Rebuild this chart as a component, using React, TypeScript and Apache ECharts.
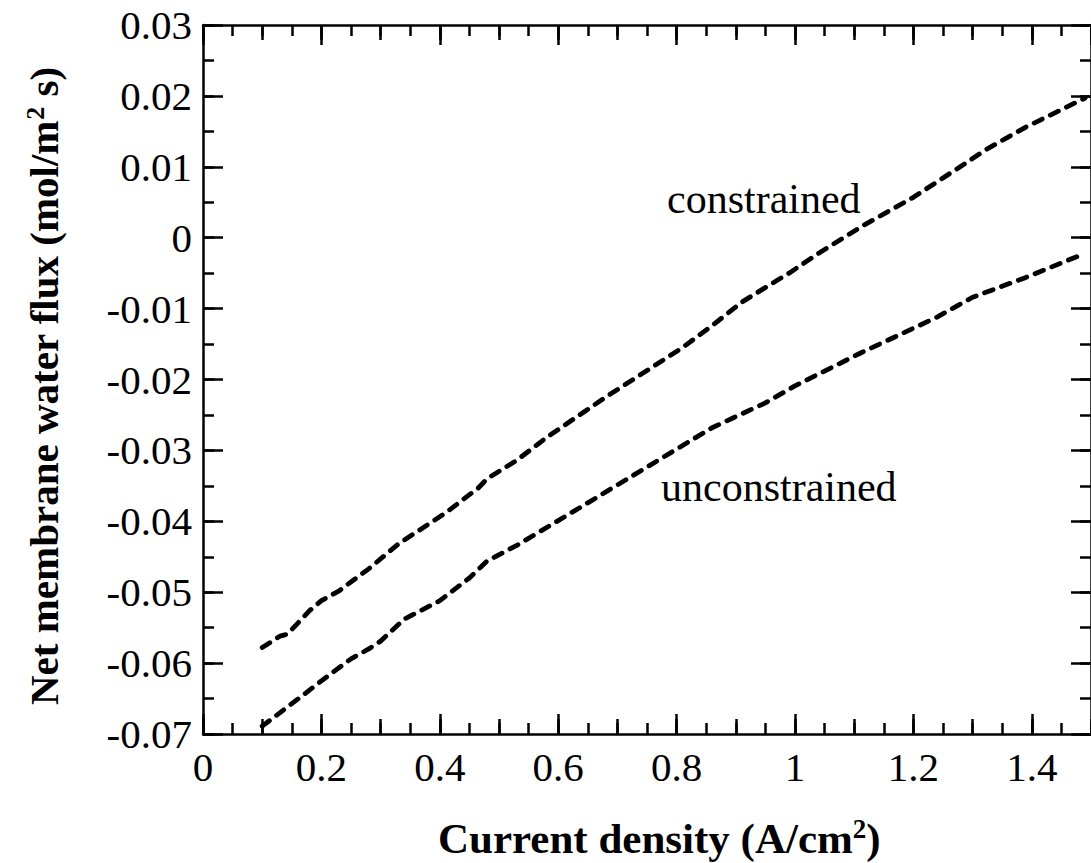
import React, { useEffect, useRef } from "react";
import * as echarts from "echarts";

// Current density (A/cm^2) and net membrane water flux (mol/m^2 s)
const currentConstrained = [
  0.1, 0.13, 0.143, 0.18, 0.2, 0.23, 0.28, 0.33, 0.41, 0.465, 0.48, 0.53, 0.58,
  0.68, 0.81, 0.86, 0.91, 0.97, 0.99, 1.04, 1.115, 1.2, 1.29, 1.32, 1.39, 1.49,
];
const fluxConstrained = [
  -0.0578, -0.0562, -0.0559, -0.0526, -0.0512, -0.0498, -0.0467, -0.0432,
  -0.0388, -0.0353, -0.034, -0.0314, -0.0282, -0.0225, -0.0155, -0.0124,
  -0.0091, -0.006, -0.005, -0.0022, 0.0017, 0.0057, 0.0106, 0.0123, 0.0156,
  0.0197,
];
const currentUnconstrained = [
  0.1, 0.174, 0.2, 0.25, 0.28, 0.3, 0.34, 0.4, 0.45, 0.48, 0.53, 0.6, 0.65,
  0.745, 0.86, 0.95, 1.0, 1.11, 1.24, 1.3, 1.39, 1.49,
];
const fluxUnconstrained = [
  -0.0689, -0.0642, -0.0625, -0.0594, -0.058, -0.0569, -0.0538, -0.0512,
  -0.048, -0.0456, -0.0434, -0.0399, -0.0374, -0.0326, -0.0268, -0.0233,
  -0.0209, -0.0163, -0.0112, -0.0084, -0.0056, -0.0022,
];

const seriesNames = ["constrained", "unconstrained"];

const xMin = 0;
const xMax = 1.5;
const xMajor = 0.2;
const xMid = 0.1;
const xMinor = 0.05;
const yMin = -0.07;
const yMax = 0.03;
const yMajor = 0.01;
const yMinor = 0.005;

const FONT = '"Liberation Serif", "Times New Roman", Times, serif';
const INK = "#000";

function xAxisDef(position: string, interval: number, tickLen: number, main: boolean, labels: boolean) {
  return {
    type: "value",
    position,
    min: xMin,
    max: xMax,
    interval,
    axisLine: { show: main, onZero: false, lineStyle: { color: INK, width: 2.5 } },
    axisTick: { show: true, inside: true, length: tickLen, lineStyle: { color: INK, width: 2.5 } },
    axisLabel: {
      show: labels,
      showMaxLabel: false,
      color: INK,
      fontFamily: FONT,
      fontSize: 41,
      margin: 12,
    },
    splitLine: { show: false },
  };
}

function yAxisDef(position: string, interval: number, tickLen: number, main: boolean, labels: boolean) {
  return {
    type: "value",
    position,
    min: yMin,
    max: yMax,
    interval,
    axisLine: { show: main, onZero: false, lineStyle: { color: INK, width: 2.5 } },
    axisTick: { show: true, inside: true, length: tickLen, lineStyle: { color: INK, width: 2.5 } },
    axisLabel: {
      show: labels,
      color: INK,
      fontFamily: FONT,
      fontSize: 41,
      margin: 11,
    },
    splitLine: { show: false },
  };
}

function pairs(xs: number[], ys: number[]) {
  return xs.map((x, i) => [x, ys[i]]);
}

function titleRich(size: number) {
  return {
    t: { font: `bold ${size}px ${FONT}`, fill: INK, lineHeight: size + 3 },
    s: {
      font: `bold ${Math.round(size * 0.63)}px ${FONT}`,
      fill: INK,
      verticalAlign: "top",
      lineHeight: Math.round(size * 0.63),
    },
  };
}

export default function App() {
  const ref = useRef<HTMLDivElement>(null);

  useEffect(() => {
    if (!ref.current) return;
    const chart = echarts.init(ref.current, undefined, { renderer: "svg" });

    const dashed = {
      color: INK,
      width: 4.8,
      type: [9, 9] as number[],
      cap: "round" as const,
    };

    chart.setOption({
      animation: false,
      backgroundColor: "#fff",
      grid: { left: 203, top: 25, right: -6, bottom: 129, containLabel: false },
      xAxis: [
        xAxisDef("bottom", xMajor, 20, true, true),
        xAxisDef("bottom", xMid, 15, false, false),
        xAxisDef("bottom", xMinor, 11, false, false),
        xAxisDef("top", xMajor, 20, true, false),
        xAxisDef("top", xMid, 15, false, false),
        xAxisDef("top", xMinor, 11, false, false),
      ],
      yAxis: [
        yAxisDef("left", yMajor, 20, true, true),
        yAxisDef("left", yMinor, 11, false, false),
        yAxisDef("right", yMajor, 20, true, false),
        yAxisDef("right", yMinor, 11, false, false),
      ],
      series: [
        {
          name: seriesNames[0],
          type: "line",
          xAxisIndex: 0,
          yAxisIndex: 0,
          showSymbol: false,
          data: pairs(currentConstrained, fluxConstrained),
          lineStyle: dashed,
        },
        {
          name: seriesNames[1],
          type: "line",
          xAxisIndex: 0,
          yAxisIndex: 0,
          showSymbol: false,
          data: pairs(currentUnconstrained, fluxUnconstrained),
          lineStyle: dashed,
        },
      ],
      graphic: [
        {
          type: "text",
          left: 667,
          top: 178,
          style: { text: seriesNames[0], font: `42px ${FONT}`, fill: INK },
        },
        {
          type: "text",
          left: 661,
          top: 466,
          style: { text: seriesNames[1], font: `42px ${FONT}`, fill: INK },
        },
        {
          type: "text",
          x: 438,
          y: 838,
          style: {
            text: "{t|Current density (A/cm}{s|2}{t|)}",
            align: "left",
            verticalAlign: "middle",
            fill: INK,
            rich: titleRich(43),
          },
        },
        {
          type: "text",
          x: 44,
          y: 705,
          rotation: Math.PI / 2,
          style: {
            text: "{t|Net membrane water flux (mol/m}{s|2}{t| s)}",
            align: "left",
            verticalAlign: "middle",
            fill: INK,
            rich: titleRich(41),
          },
        },
      ],
    });

    return () => chart.dispose();
  }, []);

  return (
    <div
      ref={ref}
      style={{ position: "fixed", left: 0, top: 0, width: 1091, height: 863, background: "#fff" }}
    />
  );
}
